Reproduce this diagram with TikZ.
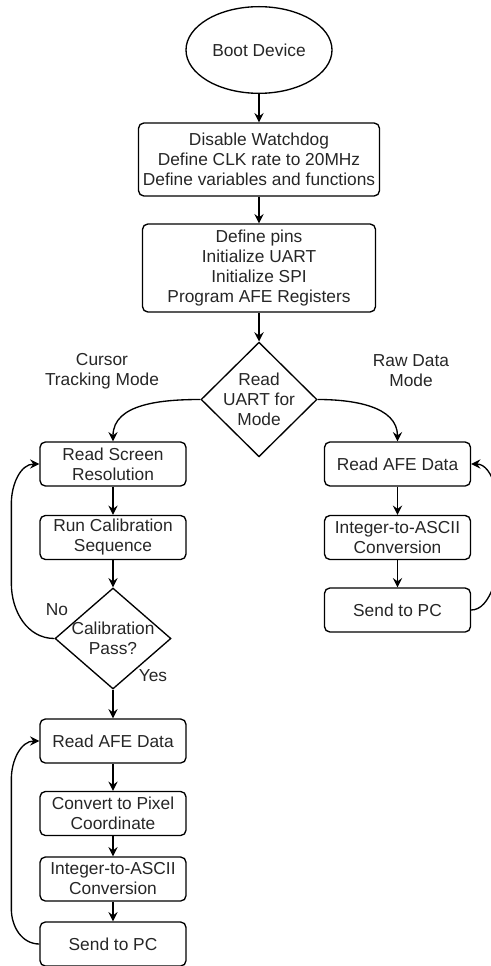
\documentclass[tikz,border=0pt]{standalone}
\usepackage{fontspec}
\setmainfont{Liberation Sans}
\usetikzlibrary{shapes.geometric,arrows.meta}

\begin{document}
\begin{tikzpicture}[x=0.75pt,y=-0.75pt,
    line width=1pt, font=\fontsize{13}{15}\selectfont, text=black!85,
    box/.style={draw, rounded corners=4pt, align=center, inner sep=0pt,
        minimum width=109.5pt, minimum height=33pt},
    decision/.style={draw, diamond, inner sep=0pt, minimum width=87pt},
    arrow/.style={-{Stealth[length=7pt,width=7pt,inset=2.5pt]}}]
    \useasboundingbox (0,0) rectangle (491,966);

    % Start and setup
    \node[draw, ellipse, minimum width=109.5pt, minimum height=65pt] (boot) at (259,50) {Boot Device};
    \node[box, minimum width=180.75pt, minimum height=54.75pt] (setup) at (259,159.5)
        {Disable Watchdog\\Define CLK rate to 20MHz\\Define variables and functions};
    \node[box, minimum width=174.75pt, minimum height=66pt] (config) at (259,268)
        {Define pins\\Initialize UART\\Initialize SPI\\Program AFE Registers};
    \node[decision, minimum height=86pt] (mode) at (259,399.5) {};
    \node[align=center] (modetext) at (mode) {Read\\UART for\\Mode};

    % Mode labels
    \node[align=center] (cursorlbl) at (102,371) {Cursor\\Tracking Mode};
    \node[align=center] (rawlbl) at (411,371) {Raw Data\\Mode};

    % Cursor tracking branch
    \node[box] (screen) at (113,464) {Read Screen\\Resolution};
    \node[box] (calib) at (113,537.5) {Run Calibration\\Sequence};
    \node[decision, minimum height=75.75pt] (pass) at (113,638.5) {};
    \node[align=center] (passtext) at (pass) {Calibration\\Pass?};
    \node[box] (afeL) at (113,741) {Read AFE Data};
    \node[box] (pixel) at (113,813.5) {Convert to Pixel\\Coordinate};
    \node[box] (asciiL) at (113,879) {Integer-to-ASCII\\Conversion};
    \node[box] (sendL) at (113,944) {Send to PC};
    \node (nolbl) at (57,610) {No};
    \node (yeslbl) at (153,676) {Yes};

    % Raw data branch
    \node[box] (afeR) at (397.5,464) {Read AFE Data};
    \node[box] (asciiR) at (397.5,537.5) {Integer-to-ASCII\\Conversion};
    \node[box] (sendR) at (397.5,610) {Send to PC};

    % Arrows
    \draw[arrow] (boot) -- (setup);
    \draw[arrow] (setup) -- (config);
    \draw[arrow] (config) -- (mode);
    \draw[arrow] (mode.west) to[out=180,in=90] (screen.north);
    \draw[arrow] (mode.east) to[out=0,in=90] (afeR.north);
    \draw[arrow] (screen) -- (calib);
    \draw[arrow] (calib) -- (calib |- pass.north);
    \draw[arrow] (pass.south -| afeL) -- (afeL);
    \draw[arrow] (afeL) -- (pixel);
    \draw[arrow] (pixel) -- (asciiL);
    \draw[arrow] (asciiL) -- (sendL);
    \draw[arrow] (afeR) -- (asciiR);
    \draw[arrow] (asciiR) -- (sendR);

    % Loops
    \draw[arrow] (pass.west) to[out=180,in=270] ++(-43,-55) -- ++(0,-80)
        to[out=90,in=180] (screen.west);
    \draw[arrow] (sendL.west) to[out=180,in=270] ++(-28,-35) -- ++(0,-130)
        to[out=90,in=180] (afeL.west);
    \draw[arrow] (sendR.east) to[out=0,in=0,looseness=0.68] (afeR.east);
\end{tikzpicture}
\end{document}
